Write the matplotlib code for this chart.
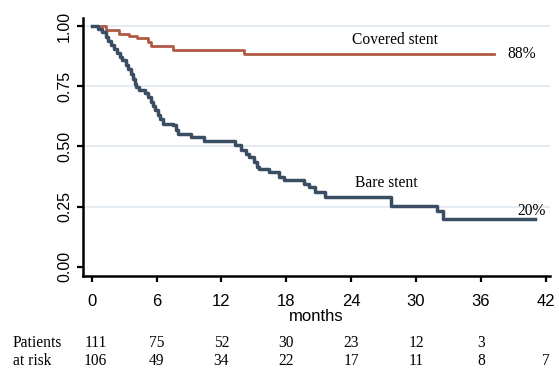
import matplotlib.pyplot as plt
import numpy as np

# Kaplan-Meier step data
covered_t = [0, 1.3, 2.5, 3.5, 4.2, 5.2, 5.5, 7.5, 14.1, 37.2]
covered_s = [1.0, 0.982, 0.968, 0.959, 0.95, 0.936, 0.916, 0.90, 0.884, 0.884]

bare_t = [0, 0.6, 1.0, 1.3, 1.5, 1.8, 2.1, 2.3, 2.6, 2.8, 3.2, 3.4, 3.6, 3.8,
          4.0, 4.1, 4.4, 4.9, 5.2, 5.5, 5.7, 5.9, 6.1, 6.3, 6.6, 7.5, 7.8,
          7.95, 9.2, 10.4, 13.3, 13.8, 14.25, 14.55, 15.0, 15.3, 15.5, 16.4,
          17.3, 17.8, 19.6, 20.1, 20.7, 21.6, 27.7, 31.9, 32.5, 41.0]
bare_s = [1.0, 0.99, 0.975, 0.955, 0.94, 0.92, 0.905, 0.89, 0.87, 0.858,
          0.838, 0.82, 0.80, 0.78, 0.76, 0.745, 0.733, 0.72, 0.705, 0.685,
          0.668, 0.65, 0.632, 0.615, 0.594, 0.587, 0.567, 0.553, 0.539, 0.522,
          0.504, 0.486, 0.469, 0.455, 0.435, 0.414, 0.404, 0.393, 0.372, 0.361,
          0.344, 0.33, 0.31, 0.289, 0.254, 0.233, 0.20, 0.20]

xticks = [0, 6, 12, 18, 24, 30, 36, 42]
yticks = [0.0, 0.25, 0.5, 0.75, 1.0]
risk_covered = ["111", "75", "52", "30", "23", "12", "3", ""]
risk_bare = ["106", "49", "34", "22", "17", "11", "8", "7"]

serif = "Liberation Serif"
sans = "Liberation Sans"

fig = plt.figure(figsize=(5.59, 3.71), dpi=100)
ax = fig.add_axes([0.1485, 0.256, 0.8355, 0.695])

for y in yticks[1:]:
    ax.axhline(y, color="#e2eaf0", lw=1.3, zorder=0)

ax.step(covered_t, covered_s, where="post", color="#b05a45", lw=2.0)
ax.step(bare_t, bare_s, where="post", color="#3b4d63", lw=2.5)

ax.set_xlim(-0.8, 42.4)
ax.set_ylim(-0.039, 1.033)
ax.set_xticks(xticks)
ax.set_yticks(yticks)
ax.set_xticklabels([str(x) for x in xticks], fontsize=12, family=sans)
ax.set_yticklabels(["%.2f" % y for y in yticks], fontsize=11.5, family=sans,
                   rotation=90, va="center")
ax.tick_params(axis="both", direction="out", length=4, width=1.6, color="black")
ax.tick_params(axis="x", pad=9)
ax.tick_params(axis="y", pad=4)

for side in ["top", "right"]:
    ax.spines[side].set_visible(False)
for side in ["left", "bottom"]:
    ax.spines[side].set_linewidth(1.8)

ax.set_xlabel("months", fontsize=12, family=sans, labelpad=0)

ax.text(28.1, 0.942, "Covered stent", family=serif, fontsize=11.2,
        ha="center", va="center")
ax.text(39.8, 0.883, "88%", family=serif, fontsize=11.2, ha="center", va="center")
ax.text(27.3, 0.346, "Bare stent", family=serif, fontsize=11.2,
        ha="center", va="center")
ax.text(40.7, 0.233, "20%", family=serif, fontsize=11.2, ha="center", va="center")

# numbers at risk, placed in data x / axes-fraction y
trans = ax.get_xaxis_transform()
fig.text(13 / 559, 1 - 343 / 371, "Patients", family=serif, fontsize=11.2,
         ha="left", va="center")
fig.text(13 / 559, 1 - 361 / 371, "at risk", family=serif, fontsize=11.2,
         ha="left", va="center")
for x, a, b in zip(xticks, risk_covered, risk_bare):
    xa = x + 0.35 if x == 0 else x
    ax.text(xa, -(343 - 276) / (276 - 18), a, transform=trans, family=serif,
            fontsize=11.2, ha="center", va="center", clip_on=False)
    ax.text(xa, -(361 - 276) / (276 - 18), b, transform=trans, family=serif,
            fontsize=11.2, ha="center", va="center", clip_on=False)

fig.savefig("out.png", dpi=100)
